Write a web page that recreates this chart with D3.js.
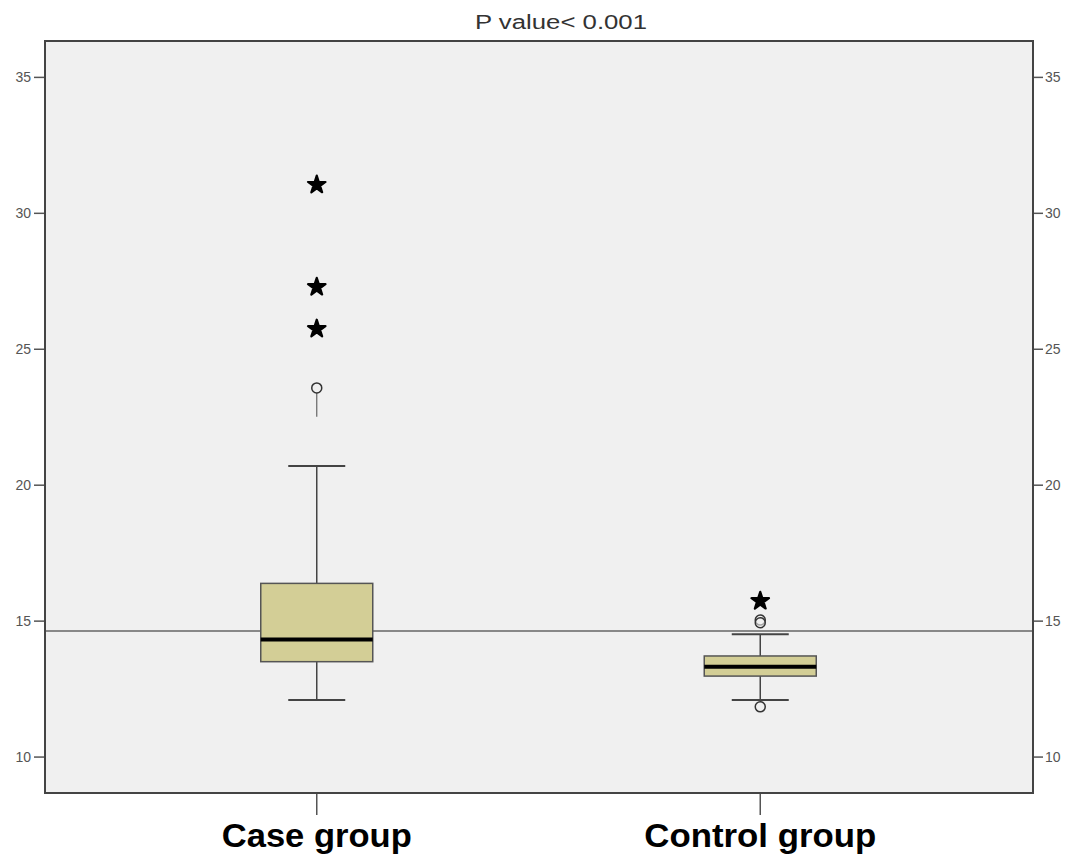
<!DOCTYPE html>
<html><head><meta charset="utf-8">
<script src="https://cdn.jsdelivr.net/npm/d3@7"></script>
<style>body{margin:0;background:#fff}svg{display:block}</style>
</head><body>
<script>
const categories = ["Case group", "Control group"];
const q1 = [13.49, 12.96];
const median = [14.31, 13.30];
const q3 = [16.37, 13.70];
const whiskerLow = [12.08, 12.08];
const whiskerHigh = [20.69, 14.50];
const circleOutliers = [[23.56], [15.02, 14.92, 11.83]];
const circleTailEnd = [22.5, null];
const extremeOutliers = [[31.03, 27.27, 25.73], [15.72]];
const referenceLine = 14.62;
const yTicks = [10, 15, 20, 25, 30, 35];
const title = "P value< 0.001";

const W = 1070, H = 854;
const svg = d3.select("body").append("svg").attr("width", W).attr("height", H);
const mLeft = 45, mRight = 1033, mTop = 41, mBottom = 793;
const y = d3.scaleLinear().domain([8.66, 36.32]).range([mBottom, mTop]);
const x = d3.scaleBand().domain(categories).range([95, 982]);
const cx = c => x(c) + x.bandwidth() / 2;

svg.append("rect").attr("x", mLeft).attr("y", mTop).attr("width", mRight - mLeft).attr("height", mBottom - mTop)
  .attr("fill", "#f0f0f0");

const axL = d3.axisLeft(y).tickValues(yTicks).tickSize(11).tickPadding(3);
const gL = svg.append("g").attr("transform", `translate(${mLeft},0)`).call(axL);
const axR = d3.axisRight(y).tickValues(yTicks).tickSize(10).tickPadding(2);
const gR = svg.append("g").attr("transform", `translate(${mRight},0)`).call(axR);
const axB = d3.axisBottom(x).tickSize(22).tickPadding(8);
const gB = svg.append("g").attr("transform", `translate(0,${mBottom})`).call(axB);
[gL, gR, gB].forEach(g => { g.select(".domain").remove(); g.selectAll("line").attr("stroke", "#555").attr("stroke-width", 1.5); });
[gL, gR].forEach(g => g.selectAll("text").attr("font-family", "Liberation Sans, Arial, sans-serif").attr("font-size", 14).attr("fill", "#555"));
gB.selectAll("text").attr("font-family", "Liberation Sans, Arial, sans-serif").attr("font-size", 34)
  .attr("font-weight", "bold").attr("fill", "#000")
  .attr("textLength", d => d === categories[0] ? 190 : 232).attr("lengthAdjust", "spacingAndGlyphs");

svg.append("line").attr("x1", mLeft).attr("x2", mRight).attr("y1", y(referenceLine)).attr("y2", y(referenceLine))
  .attr("stroke", "#666").attr("stroke-width", 1.5);

const boxW = 112, capW = 57;
categories.forEach((c, i) => {
  const X = cx(c);
  const g = svg.append("g");
  g.append("line").attr("x1", X).attr("x2", X).attr("y1", y(q3[i])).attr("y2", y(whiskerHigh[i])).attr("stroke", "#444").attr("stroke-width", 1.5);
  g.append("line").attr("x1", X).attr("x2", X).attr("y1", y(q1[i])).attr("y2", y(whiskerLow[i])).attr("stroke", "#444").attr("stroke-width", 1.5);
  [whiskerHigh[i], whiskerLow[i]].forEach(v => g.append("line").attr("x1", X - capW / 2).attr("x2", X + capW / 2)
    .attr("y1", y(v)).attr("y2", y(v)).attr("stroke", "#444").attr("stroke-width", 2));
  g.append("rect").attr("x", X - boxW / 2).attr("y", y(q3[i])).attr("width", boxW).attr("height", y(q1[i]) - y(q3[i]))
    .attr("fill", "#d3ce96").attr("stroke", "#555").attr("stroke-width", 1.5);
  g.append("line").attr("x1", X - boxW / 2).attr("x2", X + boxW / 2).attr("y1", y(median[i])).attr("y2", y(median[i]))
    .attr("stroke", "#000").attr("stroke-width", 4);
  if (circleTailEnd[i] != null) {
    g.append("line").attr("x1", X).attr("x2", X).attr("y1", y(circleOutliers[i][0]) + 5).attr("y2", y(circleTailEnd[i]))
      .attr("stroke", "#666").attr("stroke-width", 1.2);
  }
  circleOutliers[i].forEach(v => g.append("circle").attr("cx", X).attr("cy", y(v)).attr("r", 5)
    .attr("fill", "#f0f0f0").attr("fill-opacity", 0.6).attr("stroke", "#333").attr("stroke-width", 1.5));
  extremeOutliers[i].forEach(v => g.append("path").attr("d", d3.symbol(d3.symbolStar, 95)())
    .attr("transform", `translate(${X},${y(v)})`).attr("fill", "#000")
    .attr("stroke", "#000").attr("stroke-width", 2.2).attr("stroke-linejoin", "round"));
});

svg.append("rect").attr("x", mLeft).attr("y", mTop).attr("width", mRight - mLeft).attr("height", mBottom - mTop)
  .attr("fill", "none").attr("stroke", "#444").attr("stroke-width", 2);

svg.append("text").attr("x", 561).attr("y", 29).attr("text-anchor", "middle")
  .attr("font-family", "Liberation Sans, Arial, sans-serif").attr("font-size", 20).attr("fill", "#333")
  .attr("textLength", 172).attr("lengthAdjust", "spacingAndGlyphs").text(title);
</script>
</body></html>
